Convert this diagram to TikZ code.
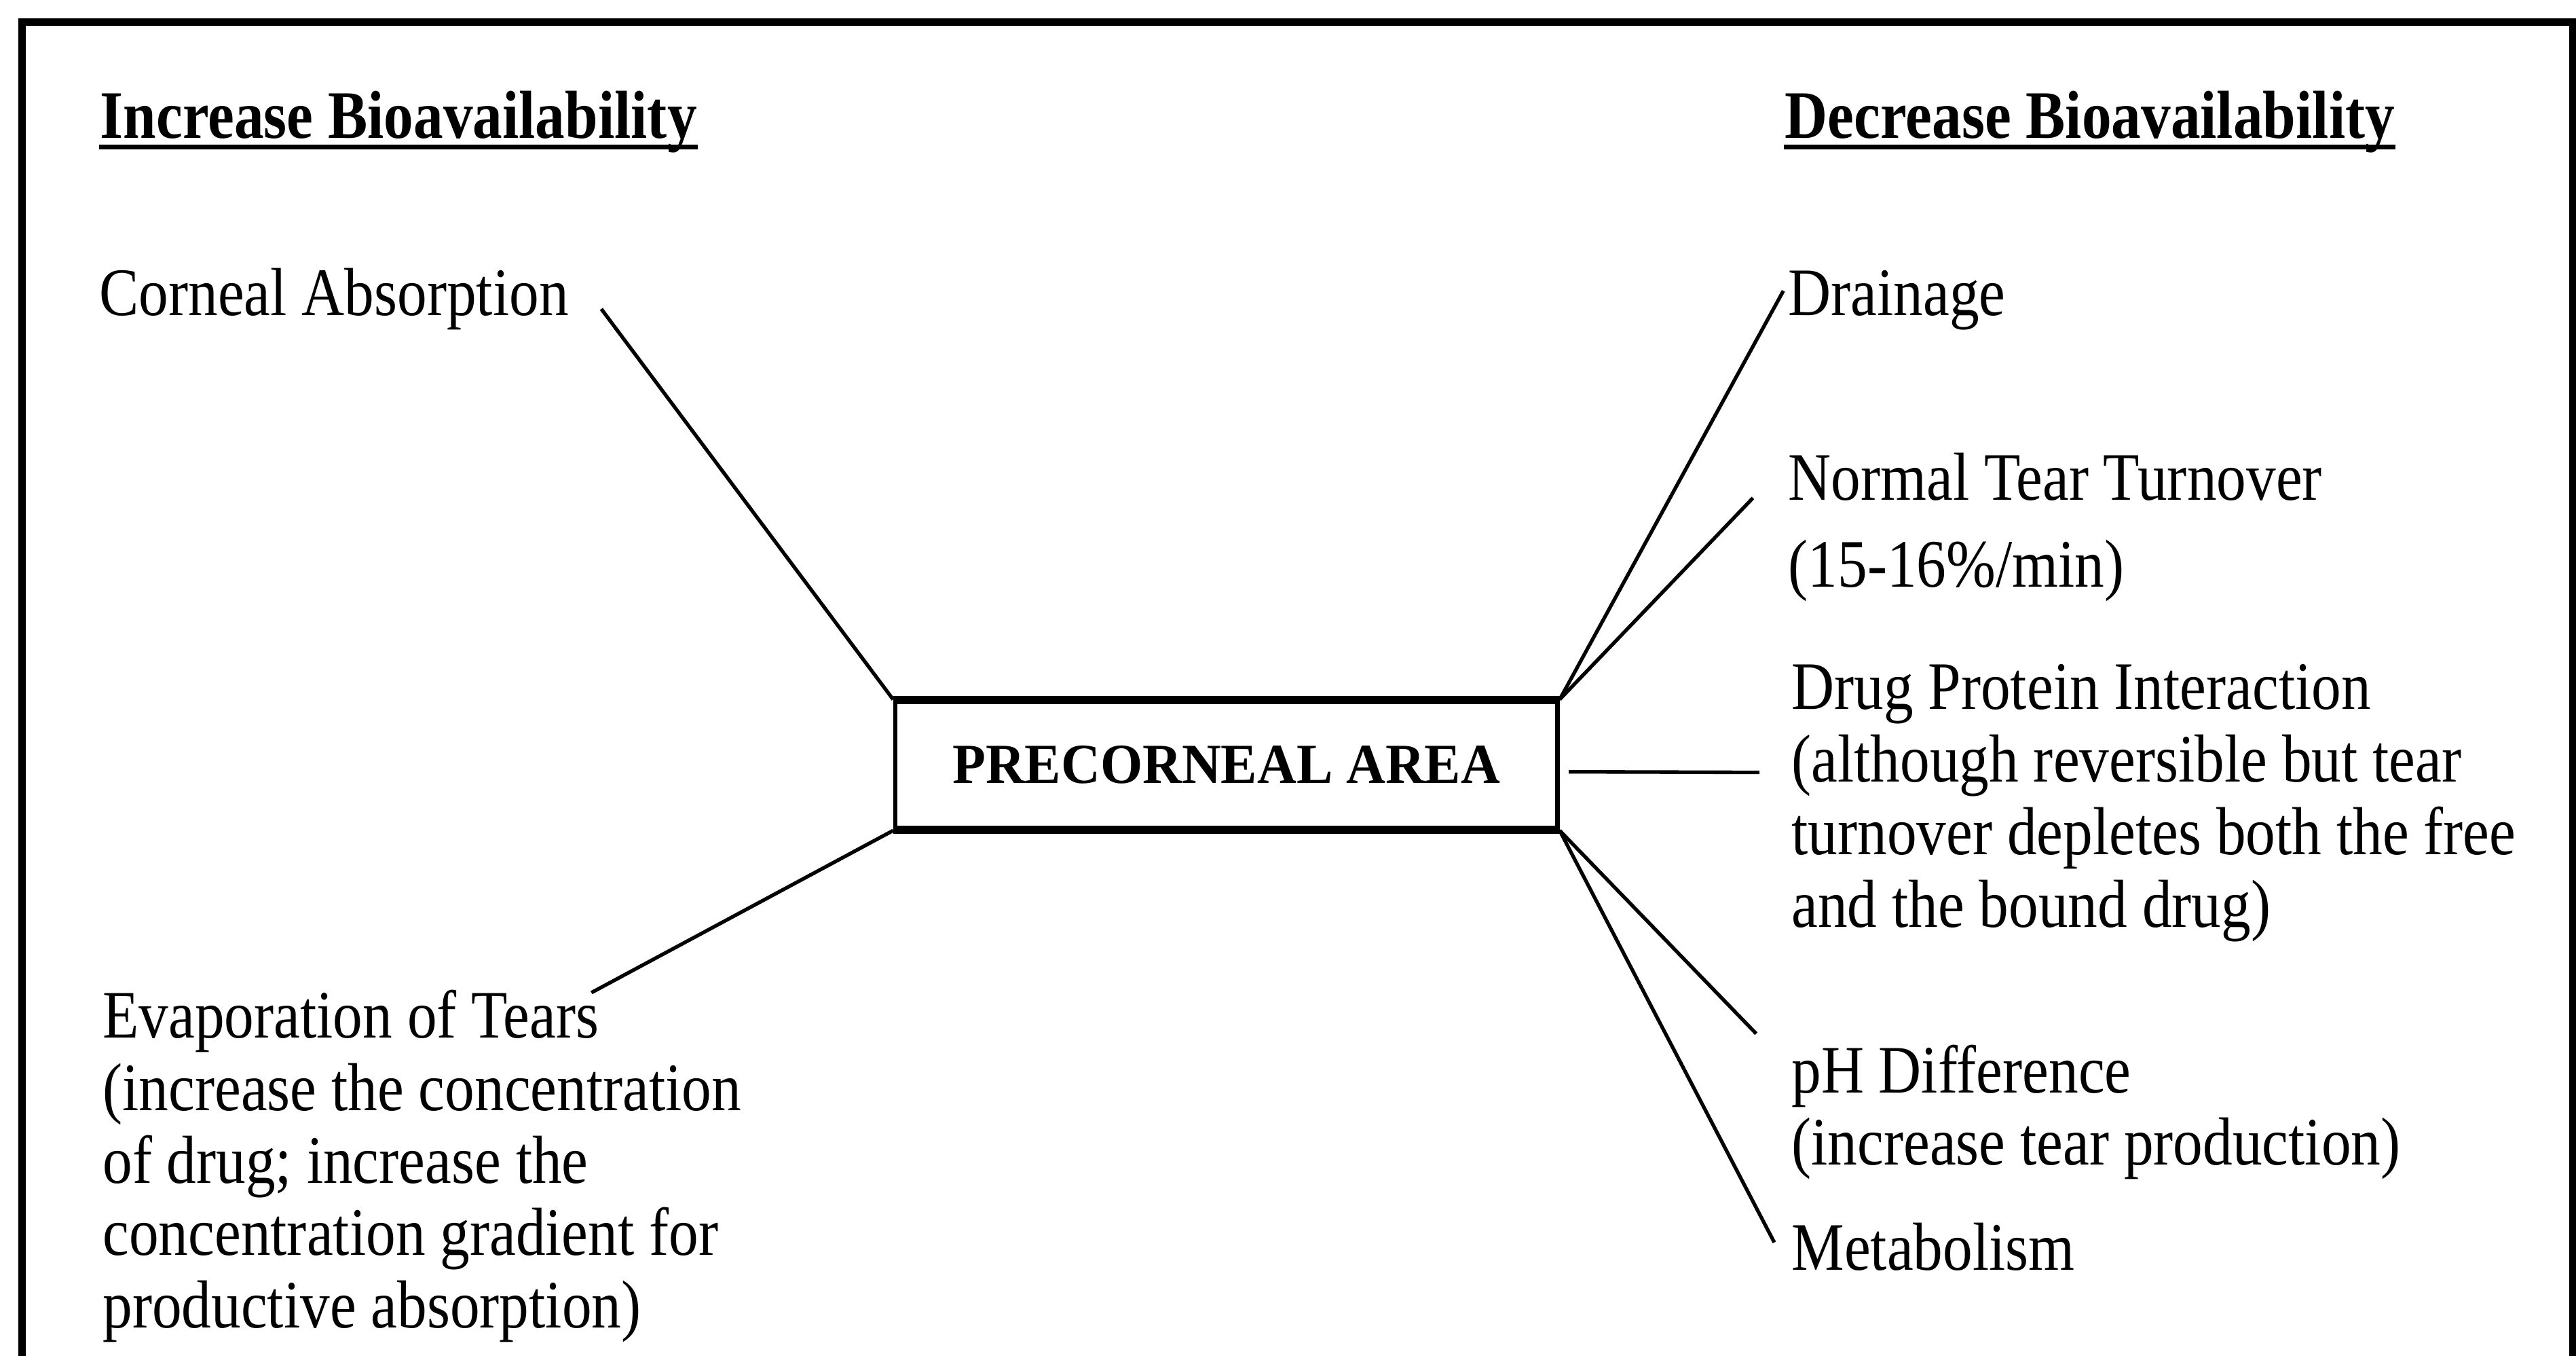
\documentclass[tikz,border=0pt]{standalone}
\usepackage{fontspec}
\setmainfont{Liberation Serif}[FakeStretch=0.873]
\newfontfamily\boxfont{Liberation Serif}[FakeStretch=0.96]

\begin{document}
\begin{tikzpicture}[x = 0.012755cm, y = -0.012755cm,
    font = \fontsize{15}{16}\selectfont,
    every node/.style = { inner sep = 0pt, anchor = base west, align = left },
    head/.style = { font = \fontsize{15}{16}\selectfont\bfseries },
    link/.style = { line width = 0.8pt }]
  \useasboundingbox (0,0) rectangle (1568,825);
  \draw[line width = 1.6pt] (13.5,840) -- (13.5,13.5) -- (1566,13.5) -- (1566,840);

  \node[head] (inc) at (60.5,84) {Increase Bioavailability};
  \node[head] (dec) at (1086,84) {Decrease Bioavailability};
  \draw[line width = 1pt] ([yshift=-2pt]inc.base west) -- ([yshift=-2pt]inc.base east);
  \draw[line width = 1pt] ([yshift=-2pt]dec.base west) -- ([yshift=-2pt]dec.base east);

  \node[draw, line width = 1pt, anchor = center, minimum width = 5.14cm, minimum height = 0.982cm,
        font = \boxfont\fontsize{12.5}{14}\selectfont\bfseries] (area) at (746.5,465.5) {PRECORNEAL AREA};
  \draw[line width = 1.6pt] (area.north west) -- (area.north east);
  \draw[line width = 1.6pt] (area.south west) -- (area.south east);

  % left side (multi-line nodes sit on their last line)
  \node (corneal) at (60,192) {Corneal Absorption};
  \node (evap) at (62,808) {Evaporation of Tears\\(increase the concentration\\of drug; increase the\\concentration gradient for\\productive absorption)};
  \coordinate (corneal end) at (366,188);
  \coordinate (evap end) at (360,604);
  \draw[link] (area.north west) -- (corneal end);
  \draw[link] (area.south west) -- (evap end);

  % right side
  \node (drain) at (1088,192) {Drainage};
  \node (tear) at (1088,357) {Normal Tear Turnover\\[3.2pt](15-16\%/min)};
  \node (protein) at (1090,564) {Drug Protein Interaction\\(although reversible but tear\\turnover depletes both the free\\and the bound drug)};
  \node (ph) at (1090,709) {pH Difference\\(increase tear production)};
  \node (metab) at (1090,773) {Metabolism};
  \coordinate (drain end) at (1085.5,177);
  \coordinate (tear end) at (1067,303);
  \coordinate (protein end) at (1071,470);
  \coordinate (ph end) at (1069,629);
  \coordinate (metab end) at (1080,756);
  \draw[link] (area.north east) -- (drain end);
  \draw[link] (area.north east) -- (tear end);
  \draw[link] ([xshift=2pt,yshift=-1.5pt]area.east) -- (protein end);
  \draw[link] (area.south east) -- (ph end);
  \draw[link] (area.south east) -- (metab end);
\end{tikzpicture}
\end{document}
